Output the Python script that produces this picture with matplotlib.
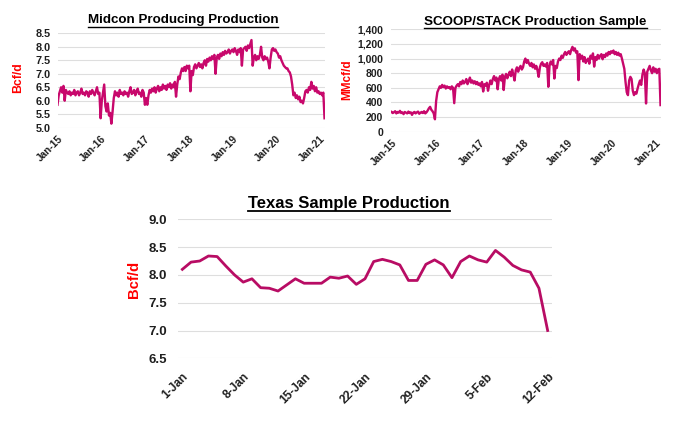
import matplotlib
matplotlib.use("Agg")
import matplotlib.pyplot as plt
from matplotlib.lines import Line2D
from matplotlib.ticker import FuncFormatter
import pandas as pd

plt.rcParams['font.family'] = ['Liberation Sans', 'DejaVu Sans']
plt.rcParams['font.weight'] = 'bold'

# Midcon producing production, Bcf/d, one reading every 10 days from Jan 2015
midcon = [
    # 2015
    5.85, 6.2, 6.35, 6.5, 6.3, 6.55, 6.0, 6.4, 6.3, 6.25, 6.35, 6.2, 6.3, 6.25, 6.4, 6.2, 6.3, 6.35, 6.2,
    6.3, 6.45, 6.25, 6.3, 6.2, 6.35, 6.3, 6.15, 6.35, 6.25, 6.4, 6.3, 6.2, 6.35, 6.5, 6.25, 6.3, 5.35,
    # 2016
    6.0, 6.3, 6.6, 5.8, 5.6, 5.9, 5.45, 5.55, 5.15, 5.6, 6.1, 6.35, 6.2, 6.3, 6.15, 6.4, 6.25, 6.3,
    6.2, 6.35, 6.25, 6.3, 6.15, 6.35, 6.5, 6.25, 6.3, 6.4, 6.2, 6.35, 6.45, 6.25, 6.3, 6.15, 6.4, 6.3,
    # 2017
    5.85, 6.1, 5.85, 6.2, 6.4, 6.3, 6.45, 6.35, 6.5, 6.3, 6.45, 6.55, 6.35, 6.5, 6.4, 6.6, 6.45, 6.55, 6.4,
    6.6, 6.5, 6.65, 6.45, 6.6, 6.5, 6.7, 6.15, 6.6, 6.9, 6.8, 7.05, 7.2, 7.1, 7.25, 7.1, 7.3, 7.2,
    # 2018
    7.3, 6.35, 7.1, 6.95, 7.25, 7.35, 7.2, 7.3, 7.4, 7.25, 7.35, 7.2, 7.4, 7.5, 7.3, 7.55, 7.45, 7.6, 7.5,
    7.65, 7.55, 7.7, 7.0, 7.6, 7.7, 7.55, 7.75, 7.65, 7.8, 7.7, 7.85, 7.75, 7.8, 7.9, 7.75, 7.85, 7.9,
    # 2019
    7.8, 7.95, 7.85, 7.7, 7.9, 7.8, 7.95, 7.3, 7.9, 7.95, 8.0, 7.85, 8.05, 7.95, 8.1, 8.25, 7.3, 7.6,
    7.7, 7.5, 7.65, 7.55, 7.7, 8.0, 7.6, 7.5, 7.65, 7.55, 7.6, 7.45, 7.2, 7.6, 7.9, 7.95, 7.85, 7.9,
    # 2020
    7.8, 7.75, 7.6, 7.65, 7.5, 7.4, 7.3, 7.25, 7.2, 7.2, 7.1, 7.05, 6.9, 6.6, 6.2, 6.3, 6.1, 6.2, 6.05,
    6.15, 5.95, 6.0, 5.9, 6.1, 6.35, 6.4, 6.3, 6.5, 6.4, 6.7, 6.45, 6.55, 6.35, 6.5, 6.3, 6.35, 6.25,
    # 2021
    6.3, 6.2, 6.3, 5.35,
]

# SCOOP/STACK production sample, MMcf/d, same 10-day steps
scoop = [
    # 2015
    270, 255, 265, 280, 250, 270, 260, 285, 255, 265, 240, 270, 260, 250, 275, 255, 265, 230, 260,
    270, 250, 265, 275, 245, 260, 270, 255, 280, 250, 265, 290, 320, 340, 300, 280, 250, 170,
    # 2016
    420, 540, 580, 620, 600, 640, 610, 630, 590, 620, 600, 610, 580, 620, 600, 390, 600, 630,
    650, 620, 680, 650, 700, 660, 680, 720, 650, 690, 740, 670, 700, 660, 690, 650, 680, 640,
    # 2017
    660, 620, 680, 550, 650, 630, 670, 560, 640, 700, 650, 720, 760, 700, 740, 580, 720, 760, 700,
    780, 570, 750, 790, 730, 780, 820, 760, 850, 780, 700, 840, 880, 820, 870, 900, 850, 880,
    # 2018
    960, 1000, 940, 980, 930, 900, 940, 880, 920, 860, 900, 840, 750, 880, 930, 950, 900, 920, 890,
    940, 614, 900, 960, 920, 980, 727, 900, 870, 960, 1000, 980, 1040, 1010, 1060, 1090, 1050, 1080,
    # 2019
    1100, 1060, 1120, 1160, 1110, 1140, 1080, 1100, 705, 1060, 1000, 1040, 960, 1020, 940, 980, 1000, 930,
    1040, 1000, 1070, 890, 1020, 980, 1050, 1000, 1040, 1060, 990, 1050, 1020, 1070, 1040, 1090, 1060, 1100,
    # 2020
    1080, 1110, 1060, 1090, 1050, 1080, 1040, 1060, 1000, 930, 860, 680, 540, 500, 700, 750, 720, 560, 500,
    540, 520, 590, 650, 700, 640, 780, 850, 800, 386, 820, 860, 900, 840, 800, 880, 820, 860,
    # 2021
    800, 850, 860, 364,
]

# Texas sample production, Bcf/d, daily 1 Jan - 12 Feb 2021
texas = [
    8.10, 8.23, 8.25, 8.34, 8.33, 8.16, 8.00, 7.87, 7.93, 7.77, 7.76, 7.71, 7.82, 7.93, 7.85,
    7.85, 7.85, 7.96, 7.94, 7.98, 7.83, 7.93, 8.24, 8.28, 8.24, 8.18, 7.90, 7.90, 8.19, 8.27,
    8.18, 7.95, 8.24, 8.34, 8.27, 8.23, 8.44, 8.32, 8.17, 8.09, 8.05, 7.76, 7.00,
]

midcon_dates = pd.date_range('2015-01-01', periods=len(midcon), freq='10D')
scoop_dates = pd.date_range('2015-01-01', periods=len(scoop), freq='10D')
texas_dates = pd.date_range('2021-01-01', periods=len(texas), freq='D')
year_ticks = pd.date_range('2015-01-01', '2021-01-01', freq='YS')

LINE = '#C8086C'
TEX_LINE = '#B80C64'
TICK = '#1F1F1F'
GRID = '#DEDEDE'
RED = '#FF0000'

fig = plt.figure(figsize=(6.8, 4.23), dpi=100)
W, H = 680, 423


def box(x0, x1, ytop, ybot):
    return [x0 / W, 1 - ybot / H, (x1 - x0) / W, (ybot - ytop) / H]


def style(ax, yfs, xfs, ypad, xpad):
    for s in ax.spines.values():
        s.set_visible(False)
    ax.grid(axis='y', color=GRID, lw=0.8)
    ax.set_axisbelow(True)
    ax.tick_params(axis='y', length=0, labelsize=yfs, colors=TICK, pad=ypad)
    ax.tick_params(axis='x', length=0, labelsize=xfs, colors=TICK, pad=xpad)
    plt.setp(ax.get_xticklabels(), rotation=45, ha='right', rotation_mode='anchor')


# Midcon
ax1 = fig.add_axes(box(57.5, 325, 33.3, 127.7))
ax1.plot(midcon_dates, midcon, color=LINE, lw=1.7)
ax1.set_ylim(5.0, 8.5)
ax1.set_yticks([5.0, 5.5, 6.0, 6.5, 7.0, 7.5, 8.0, 8.5])
ax1.yaxis.set_major_formatter(FuncFormatter(lambda v, p: f'{v:.1f}'))
ax1.set_xlim(pd.Timestamp('2015-01-01'), pd.Timestamp('2021-02-12'))
ax1.set_xticks(year_ticks)
ax1.set_xticklabels([d.strftime('%b-%y') for d in year_ticks])
style(ax1, 7.8, 7.3, 5, 4)

# SCOOP/STACK
ax2 = fig.add_axes(box(391.5, 661, 29.3, 131.7))
ax2.plot(scoop_dates, scoop, color=LINE, lw=1.7)
ax2.set_ylim(0, 1400)
ax2.set_yticks(range(0, 1401, 200))
ax2.yaxis.set_major_formatter(FuncFormatter(lambda v, p: f'{v:,.0f}'))
ax2.set_xlim(pd.Timestamp('2015-01-01'), pd.Timestamp('2021-02-12'))
ax2.set_xticks(year_ticks)
ax2.set_xticklabels([d.strftime('%b-%y') for d in year_ticks])
style(ax2, 7.5, 7.3, 6, 4)

# Texas
ax3 = fig.add_axes(box(178, 552, 219.3, 358.3))
ax3.plot(texas_dates, texas, color=TEX_LINE, lw=2.0)
ax3.set_ylim(6.5, 9.0)
ax3.set_yticks([6.5, 7.0, 7.5, 8.0, 8.5, 9.0])
ax3.yaxis.set_major_formatter(FuncFormatter(lambda v, p: f'{v:.1f}'))
ax3.set_xlim(texas_dates[0] - pd.Timedelta(hours=12), texas_dates[-1] + pd.Timedelta(hours=12))
tex_ticks = texas_dates[::7]
ax3.set_xticks(tex_ticks)
ax3.set_xticklabels([f'{d.day}-{d:%b}' for d in tex_ticks])
style(ax3, 9.5, 8.6, 8, 9)

# y-axis titles
fig.text(18 / W, 1 - 78 / H, 'Bcf/d', color=RED, fontsize=8.8, rotation=90, ha='center', va='center')
fig.text(347 / W, 1 - 80 / H, 'MMcf/d', color=RED, fontsize=8.5, rotation=90, ha='center', va='center')
fig.text(134 / W, 1 - 279 / H, 'Bcf/d', color=RED, fontsize=10.6, rotation=90, ha='center', va='center')

# underlined chart titles
titles = [
    fig.text(183 / W, 1 - 20.5 / H, 'Midcon Producing Production', fontsize=9.6, ha='center', va='center', color='black'),
    fig.text(535.5 / W, 1 - 21.5 / H, 'SCOOP/STACK Production Sample', fontsize=9.6, ha='center', va='center', color='black'),
    fig.text(349 / W, 1 - 203 / H, 'Texas Sample Production', fontsize=12, ha='center', va='center', color='black'),
]
fig.canvas.draw()
r = fig.canvas.get_renderer()
for t in titles:
    bb = t.get_window_extent(r).transformed(fig.transFigure.inverted())
    y = bb.y0 - 0.5 / H
    fig.add_artist(Line2D([bb.x0, bb.x1], [y, y], transform=fig.transFigure,
                          color='black', lw=1.0 if t.get_fontsize() < 11 else 1.3))

fig.savefig('out.png', dpi=100, facecolor='white')
